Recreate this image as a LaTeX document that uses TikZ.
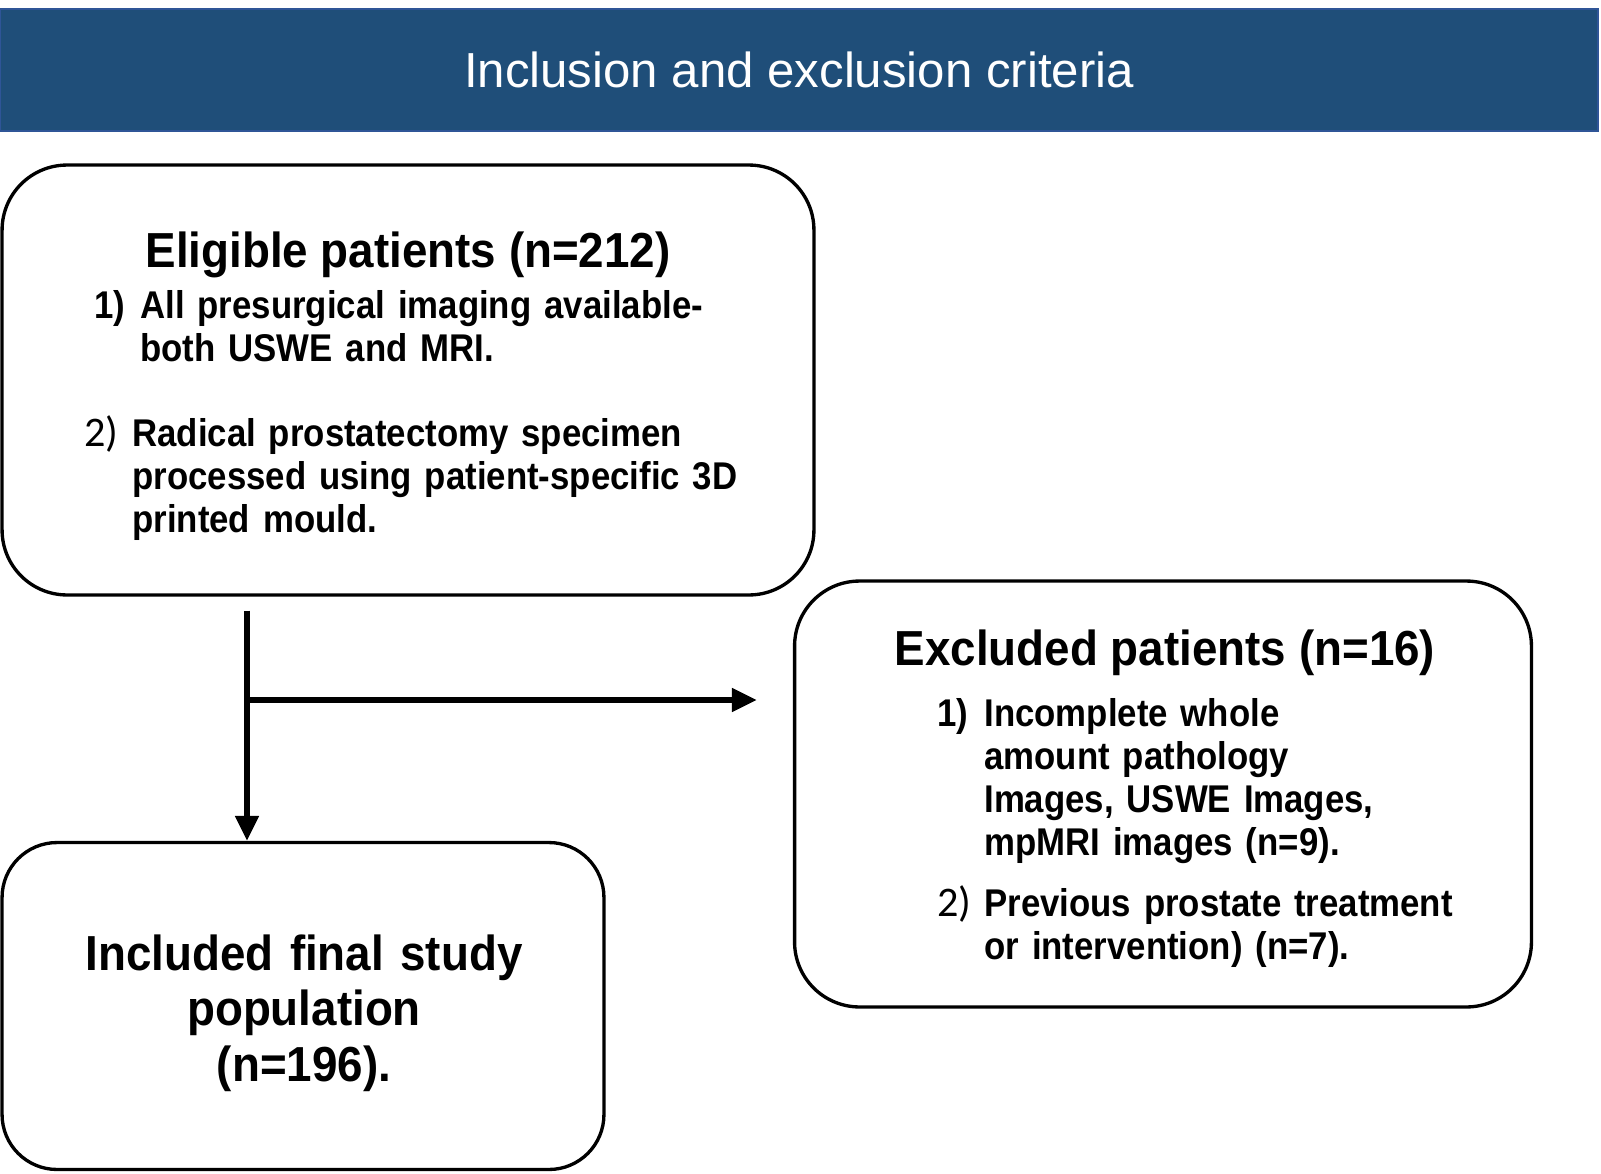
\documentclass[tikz,border=0pt]{standalone}
\usepackage{fontspec}
\setmainfont{Liberation Sans}[FakeStretch=0.93]
\newfontfamily\itemfont{Liberation Sans}[FakeStretch=0.9]
\newfontfamily\titlefont{Liberation Sans}
\newfontfamily\numfont{Carlito}
\usepackage{tikz}
\usetikzlibrary{arrows.meta}
\usetikzlibrary{calc}
\definecolor{bannerblue}{HTML}{1F4E79}
\definecolor{bannerline}{HTML}{2F5597}

\begin{document}
\begin{tikzpicture}[x=0.02cm,y=-0.02cm,
    main box/.style={rectangle,draw,line width=1.9pt,rounded corners=1.3cm,inner sep=0pt},
    head text/.style={anchor=base,inner sep=0pt,font=\fontsize{28}{32}\selectfont\bfseries},
    item text/.style={anchor=base west,align=left,text width=13cm,inner sep=0pt,font=\fontsize{22}{24.5}\selectfont\itemfont\bfseries},
    item num/.style={anchor=base west,inner sep=0pt,font=\fontsize{22}{24.5}\selectfont\itemfont\bfseries},
    light num/.style={anchor=base west,inner sep=0pt,font=\fontsize{24}{26}\selectfont\numfont},
    flow/.style={line width=3.4pt,-{Triangle[length=0.5cm,width=0.45cm]}}]

    \useasboundingbox (0,0) rectangle (1601,1173);

    % banner
    \node[fill=bannerblue,draw=bannerline,line width=1.2pt,inner sep=0pt,minimum width=31.96cm,minimum height=2.44cm,
        text=white,font=\fontsize{28}{32}\selectfont\titlefont] (banner) at (799,70) {Inclusion and exclusion criteria};

    % boxes
    \node[main box,minimum width=16.24cm,minimum height=8.6cm] (eligible) at (408,380) {};
    \node[main box,minimum width=14.74cm,minimum height=8.52cm] (excluded) at (1163,794) {};
    \node[main box,rounded corners=1.1cm,minimum width=12.04cm,minimum height=6.54cm] (included) at (303,1006) {};

    % eligible patients
    \node[head text] (elig-head) at (408,267) {Eligible patients (n=212)};
    \node[item num] (elig-num1) at (94,318) {1)};
    \node[item text] (elig-item1) at (140,318) {All presurgical imaging available-\\both USWE and MRI.};
    \node[light num] (elig-num2) at (84,446) {2)};
    \node[item text] (elig-item2) at (132,446) {Radical prostatectomy specimen\\processed using patient-specific 3D\\printed mould.};

    % excluded patients
    \node[head text] (excl-head) at (1165,665) {Excluded patients (n=16)};
    \node[item num] (excl-num1) at (937,726) {1)};
    \node[item text] (excl-item1) at (984,726) {Incomplete whole\\amount pathology\\Images, USWE Images,\\mpMRI images (n=9).};
    \node[light num] (excl-num2) at (937,916) {2)};
    \node[item text] (excl-item2) at (984,916) {Previous prostate treatment\\or intervention) (n=7).};

    % included population
    \node[head text,align=center,text width=11cm,font=\fontsize{28}{31.7}\selectfont\bfseries] (incl-text) at (304,970)
        {Included final study\\population\\(n=196).};

    % arrows
    \coordinate (split) at (247,700);
    \draw[line width=3.4pt] ($ (eligible.south -| split) + (0,14) $) -- (split);
    \draw[flow] (split) -- (included.north -| split);
    \draw[flow,shorten >=0.72cm] (split) -- (split -| excluded.west);

\end{tikzpicture}
\end{document}
